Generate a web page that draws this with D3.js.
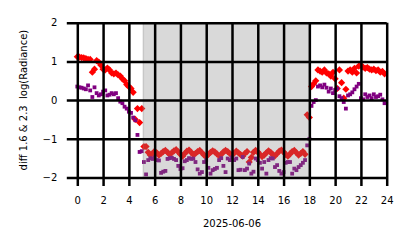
<!DOCTYPE html>
<html><head><meta charset="utf-8">
<script src="https://cdn.jsdelivr.net/npm/d3@7"></script>
<style>html,body{margin:0;padding:0;background:#fff;}svg{display:block;font-family:"DejaVu Sans",sans-serif;}</style>
</head><body>
<svg id="c" width="414" height="248"></svg>
<script>
// 10-minute samples starting at 00:00 on 2025-06-06
const stepMinutes = 10;
const redValues = [
 1.12,1.11,1.10,1.09,1.07,1.05,
 1.05,0.72,0.80,1.02,0.98,0.90,
 0.80,0.78,0.83,0.78,0.70,0.68,
 0.70,0.65,0.62,0.55,0.50,0.40,
 0.35,0.30,0.20,-0.50,-0.22,-0.58,-0.22,-1.20,
 -1.20,-1.35,-1.42,-1.38,-1.32,-1.36,-1.42,-1.38,-1.33,-1.30,
 -1.35,-1.40,-1.36,-1.31,-1.28,-1.34,-1.40,-1.45,-1.38,-1.32,
 -1.29,-1.35,-1.41,-1.38,-1.33,-1.30,-1.36,-1.42,-1.46,-1.40,
 -1.35,-1.31,-1.34,-1.39,-1.44,-1.40,-1.34,-1.30,-1.33,-1.38,
 -1.42,-1.37,-1.32,-1.36,-1.41,-1.45,-1.38,-1.33,-1.60,-1.48,
 -1.35,-1.30,-1.34,-1.40,-1.46,-1.42,-1.36,-1.31,-1.35,-1.41,
 -1.44,-1.38,-1.32,-1.29,-1.34,-1.40,-1.45,-1.39,-1.33,-1.30,
 -1.36,-1.42,-1.38,-1.33,-1.40,-0.38,-0.45,
 0.35,0.42,0.50,0.78,0.75,0.72,0.78,0.70,0.68,0.62,0.72,
 0.55,0.30,0.78,0.45,0.05,0.28,0.75,0.78,0.72,0.82,0.70,0.88,
 0.90,0.85,0.82,0.84,0.80,0.78,0.80,0.76,0.78,0.72,0.74,0.68
];
const purpleValues = [
 0.35,0.33,0.32,0.30,0.28,0.38,
 0.25,0.08,0.33,0.18,0.12,0.15,
 0.22,0.25,0.12,0.14,0.18,0.15,
 0.18,0.05,-0.04,-0.08,-0.17,-0.22,
 -0.30,-0.33,-0.45,-0.52,-0.90,-1.34,-1.32,-1.60,-1.92,
 -1.55,-1.50,-1.52,-1.48,-1.55,-1.56,-1.88,-1.85,-1.83,
 -1.52,-1.50,-1.49,-1.52,-1.55,-1.70,-1.78,-1.76,-1.58,-1.55,
 -1.50,-1.52,-1.51,-1.60,-1.79,-1.90,-1.86,-1.60,-1.55,-1.75,
 -1.90,-1.81,-1.78,-1.75,-1.55,-1.50,-1.70,-1.86,-1.51,-1.55,
 -1.48,-1.55,-1.51,-1.81,-1.80,-1.47,-1.81,-1.77,-1.64,-1.90,
 -1.85,-1.51,-1.55,-1.62,-1.77,-1.60,-1.90,-1.55,-1.50,-1.51,
 -1.73,-1.68,-1.83,-1.90,-1.86,-1.62,-1.60,-1.60,-1.90,-1.77,
 -1.81,-1.73,-1.68,-1.62,-1.55,-1.17,-1.00,
 -0.15,-0.05,0.00,0.35,0.38,0.33,0.40,0.32,0.22,0.30,0.18,
 0.26,0.30,0.10,0.05,-0.05,-0.22,0.12,0.15,0.20,0.28,0.35,0.42,
 0.05,0.02,0.15,0.08,0.12,0.05,0.15,0.08,0.10,0.14,0.02,-0.08
];
const xTicks = [0,2,4,6,8,10,12,14,16,18,20,22,24];
const yTicks = [-2,-1,0,1,2];
const shadeSpan = [5.12, 18.0];
const xLabel = "2025-06-06";
const yLabel = "diff 1.6 & 2.3\u00a0\u00a0log(Radiance)";

const svg = d3.select("#c");
const L = 77.3, R = 386.7, T = 22.7, B = 177.5;
const x = d3.scaleLinear().domain([0,24]).range([L,R]);
const y = d3.scaleLinear().domain([-2,2]).range([B,T]);
const hour = i => i*stepMinutes/60;

const fmt = v => (v<0 ? "\u2212"+Math.abs(v) : ""+v);

// points
const diamond = "M0,-3.6L3.6,0L0,3.6L-3.6,0Z";
svg.append("g").selectAll("path").data(redValues).join("path")
  .attr("d", diamond)
  .attr("transform",(d,i)=>`translate(${x(hour(i))},${y(d)})`)
  .attr("fill","#ff0000");
const s = 3.8;
svg.append("g").selectAll("rect").data(purpleValues).join("rect")
  .attr("x",(d,i)=>x(hour(i))-s/2).attr("y",d=>y(d)-s/2)
  .attr("width",s).attr("height",s).attr("fill","#800080");

// shading overlay
svg.append("rect")
  .attr("x",x(shadeSpan[0])).attr("y",T)
  .attr("width",x(shadeSpan[1])-x(shadeSpan[0])).attr("height",B-T)
  .attr("fill","rgba(128,128,128,0.3)")
  .attr("stroke","rgba(128,128,128,0.3)").attr("stroke-width",1.5);

// grid + axes
const xAxis = d3.axisBottom(x).tickValues(xTicks).tickSize(B-T+8.5).tickPadding(11).tickFormat(fmt);
const gx = svg.append("g").attr("transform",`translate(0,${T})`).call(xAxis);
gx.select(".domain").remove();
gx.selectAll("line").attr("stroke","#000").attr("stroke-width",2.5);
gx.selectAll("text").attr("font-size",10).attr("fill","#000").attr("font-family","DejaVu Sans");

const yAxis = d3.axisLeft(y).tickValues(yTicks).tickSize(R-L+10.5).tickPadding(9.5).tickFormat(fmt);
const gy = svg.append("g").attr("transform",`translate(${R},0)`).call(yAxis);
gy.select(".domain").remove();
gy.selectAll("line").attr("stroke","#000").attr("stroke-width",2.5);
gy.selectAll("text").attr("font-size",10).attr("fill","#000").attr("font-family","DejaVu Sans");

svg.append("text").attr("x",(L+R)/2).attr("y",227.3).attr("text-anchor","middle")
  .attr("font-size",10).text(xLabel);
svg.append("text").attr("transform",`translate(27,${(T+B)/2}) rotate(-90)`)
  .attr("text-anchor","middle").attr("font-size",10).text(yLabel);
</script>
</body></html>
